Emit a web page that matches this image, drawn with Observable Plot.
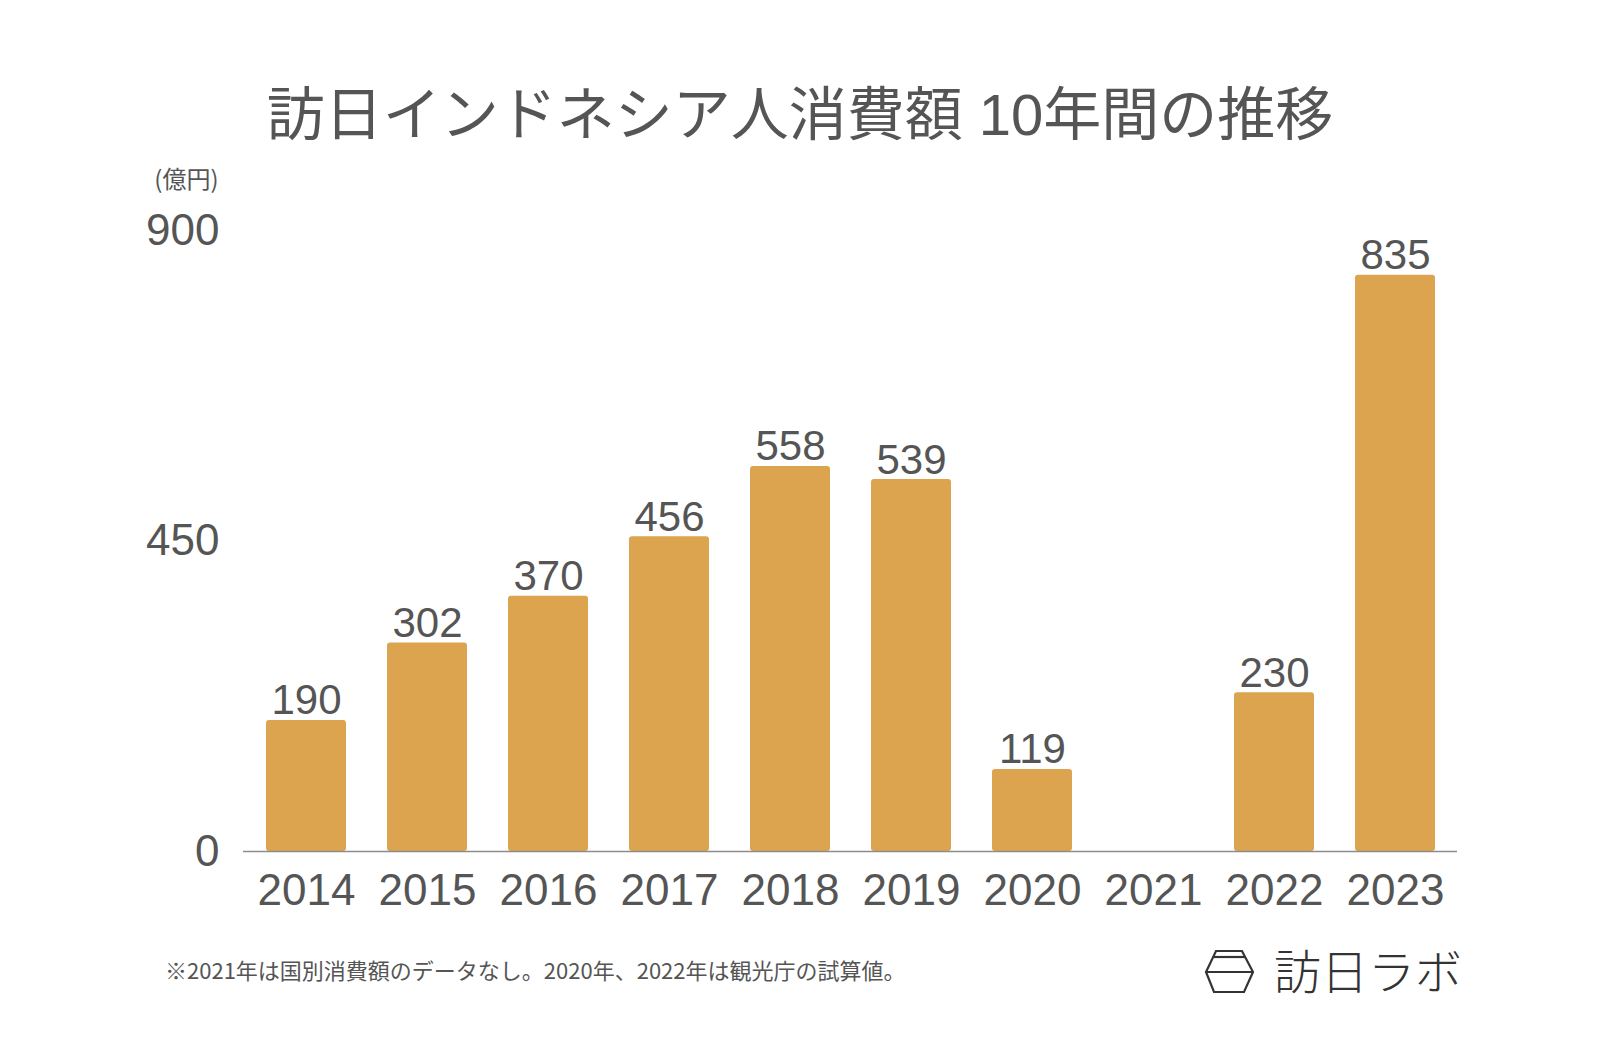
<!DOCTYPE html>
<html lang="ja">
<head>
<meta charset="utf-8">
<script src="https://cdn.jsdelivr.net/npm/d3@7"></script>
<script src="https://cdn.jsdelivr.net/npm/@observablehq/plot@0.6"></script>
<style>
  html, body { margin: 0; padding: 0; background: #fff; }
  body { width: 1600px; height: 1048px; position: relative; overflow: hidden;
         font-family: "Noto Sans CJK JP", "Noto Sans", sans-serif; color: #555; }
  #title { position: absolute; left: 0; width: 1600px; top: 78px; text-align: center;
           font-family: "Liberation Sans", "Noto Sans CJK JP", sans-serif;
           font-size: 58px; line-height: 74px; color: #555; font-weight: 400; }
  #chart { position: absolute; left: 0; top: 150px; }
  #note { position: absolute; left: 165px; top: 954px; font-size: 22px; line-height: 30px; color: #555; }
  #logo { position: absolute; left: 1200px; top: 930px; width: 270px; height: 76px; overflow: visible; }
</style>
</head>
<body>
<div id="title">訪日インドネシア人消費額 10年間の推移</div>
<div id="chart"></div>
<div id="note">※2021年は国別消費額のデータなし。2020年、2022年は観光庁の試算値。</div>
<svg id="logo" width="270" height="76" viewBox="0 0 270 76">
  <g fill="none" stroke="#333" stroke-width="2.2" stroke-linejoin="miter">
    <polygon points="16,21 42,21 53,42 44,62 14,62 6,42"></polygon>
    <line x1="13" y1="27" x2="45" y2="27"></line>
    <line x1="6" y1="42" x2="53" y2="42"></line>
  </g>
  <text x="74" y="59" font-size="47" font-weight="200" fill="#333" font-family="Noto Sans CJK JP">訪日ラボ</text>
</svg>
<script>
const years = ["2014","2015","2016","2017","2018","2019","2020","2021","2022","2023"];
const values = [190, 302, 370, 456, 558, 539, 119, null, 230, 835];
const yTicks = [0, 450, 900];
const unitLabel = "(億円)";

const data = years.map((year, i) => ({year, value: values[i]})).filter(d => d.value != null);
const numFont = "\"Liberation Sans\", \"Noto Sans CJK JP\", sans-serif";

const chart = Plot.plot({
  width: 1600,
  height: 800,
  marginTop: 80,
  marginBottom: 99,
  marginLeft: 243,
  marginRight: 143,
  style: { fontFamily: numFont, color: "#555", background: "transparent" },
  x: { domain: years, paddingInner: 0.34, paddingOuter: 0.17, label: null, tickSize: 0, tickPadding: 22, fontSize: 44 },
  y: { domain: [0, 900], ticks: yTicks, label: null, tickSize: 0, tickPadding: 24 },
  marks: [
    Plot.barY(data, { x: "year", y: "value", fill: "#dca44f", rx: 3 }),
    Plot.ruleY([0], { stroke: "#8c8c8c", strokeWidth: 1.5 }),
    Plot.axisX({ domain: years, tickSize: 0, tickPadding: 22, fontSize: 44, fill: "#555", label: null }),
    Plot.axisY({ ticks: yTicks, tickSize: 0, tickPadding: 24, fontSize: 44, fill: "#555", label: null }),
    Plot.text(data, { x: "year", y: "value", text: d => String(d.value), lineAnchor: "bottom", dy: -6, fontSize: 42, fill: "#555" }),
    Plot.text([unitLabel], { frameAnchor: "top-left", text: d => d, textAnchor: "end", lineAnchor: "middle", dx: -25, dy: -50, fontSize: 24, fill: "#555", fontFamily: "\"Noto Sans CJK JP\", sans-serif" })
  ]
});
document.getElementById("chart").appendChild(chart);
</script>
</body>
</html>
